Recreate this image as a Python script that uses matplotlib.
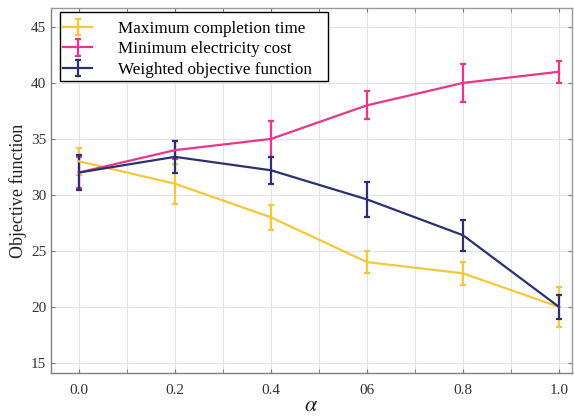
import matplotlib
matplotlib.use("Agg")
import matplotlib.pyplot as plt
from matplotlib.ticker import MultipleLocator, FixedLocator
from matplotlib.legend_handler import HandlerBase
from matplotlib.container import ErrorbarContainer
from matplotlib.lines import Line2D
from matplotlib.patches import Rectangle

alpha = [0.0, 0.2, 0.4, 0.6, 0.8, 1.0]
x_tick_labels = ["0.0", "0.2", "0.4", "06", "0.8", "1.0"]

max_time = [33.0, 31.0, 28.0, 24.0, 23.0, 20.0]
max_time_err = [1.2, 1.8, 1.1, 1.0, 1.0, 1.75]

min_cost = [32.0, 34.0, 35.0, 38.0, 40.0, 41.0]
min_cost_err = [1.35, 0.8, 1.6, 1.25, 1.7, 1.0]

weighted = [32.0, 33.4, 32.2, 29.6, 26.4, 20.0]
weighted_err = [1.6, 1.4, 1.2, 1.55, 1.4, 1.05]

labels = ["Maximum completion time", "Minimum electricity cost", "Weighted objective function"]
colors = ["#F5C73A", "#E9358B", "#2C3070"]

plt.rcParams['font.family'] = ['Liberation Serif', 'DejaVu Serif']
plt.rcParams['mathtext.fontset'] = 'stix'


class CrossErrorHandler(HandlerBase):
    def create_artists(self, legend, orig_handle, xdescent, ydescent, width, height,
                       fontsize, trans):
        c = orig_handle.lines[0].get_color()
        cy = height / 2 - ydescent
        cx = width / 2 - xdescent
        hh = 6.0
        h = Line2D([-xdescent, width - xdescent], [cy, cy], color=c, lw=1.6)
        v = Line2D([cx, cx], [cy - hh, cy + hh], color=c, lw=1.6)
        caps = Line2D([cx, cx], [cy - hh, cy + hh], color=c, ls='none',
                      marker='_', markersize=5, markeredgewidth=1.6)
        for a in (h, v, caps):
            a.set_transform(trans)
        return [h, v, caps]


fig = plt.figure(figsize=(5.74, 4.16), dpi=100)
ax = fig.add_axes([0.089, 0.1034, 0.9075, 0.8776])

for y, e, lab, c in zip([max_time, min_cost, weighted],
                        [max_time_err, min_cost_err, weighted_err], labels, colors):
    ax.errorbar(alpha, y, yerr=e, color=c, lw=1.6, elinewidth=1.6,
                capsize=2.5, capthick=1.6, label=lab)

ax.set_xlim(-0.058, 1.027)
ax.set_ylim(14.1, 46.7)
ax.xaxis.set_major_locator(FixedLocator(alpha))
ax.set_xticklabels(x_tick_labels)
ax.xaxis.set_minor_locator(MultipleLocator(0.1))
ax.yaxis.set_major_locator(MultipleLocator(5))
ax.grid(True, which='both', axis='x', color='#e3e3e3', lw=0.8)
ax.grid(True, which='major', axis='y', color='#e3e3e3', lw=0.8)
ax.set_axisbelow(True)
ax.tick_params(which='both', direction='in', top=True, right=True, colors='#777777',
               labelcolor='#333333', labelsize=11, length=3)
ax.tick_params(axis='x', pad=8)
for s in ax.spines.values():
    s.set_color('#999999')
    s.set_linewidth(1.0)
ax.spines['left'].set_color('#808080')
ax.spines['bottom'].set_color('#808080')

ax.set_ylabel("Objective function", fontsize=13, color='#222222', labelpad=3)
ax.set_xlabel(r"$\alpha$", fontsize=16, color='#222222', labelpad=0)

# legend frame (MATLAB-like box)
fig.patches.append(Rectangle((60 / 574, 1 - 81 / 416), 268 / 574, 69 / 416,
                             transform=fig.transFigure, facecolor='white',
                             edgecolor='black', lw=1.0, zorder=5))

leg = ax.legend(loc='upper left', bbox_to_anchor=(63 / 574, 1 - 20 / 416),
                bbox_transform=fig.transFigure, fontsize=12.3, frameon=False,
                handlelength=1.7, handleheight=0.9, handletextpad=1.52,
                borderpad=0, labelspacing=0.2, borderaxespad=0,
                handler_map={ErrorbarContainer: CrossErrorHandler()})
leg.set_zorder(6)
leg.remove()
fig.legends.append(leg)
leg.set_figure(fig)

fig.savefig("out.png", dpi=100)
